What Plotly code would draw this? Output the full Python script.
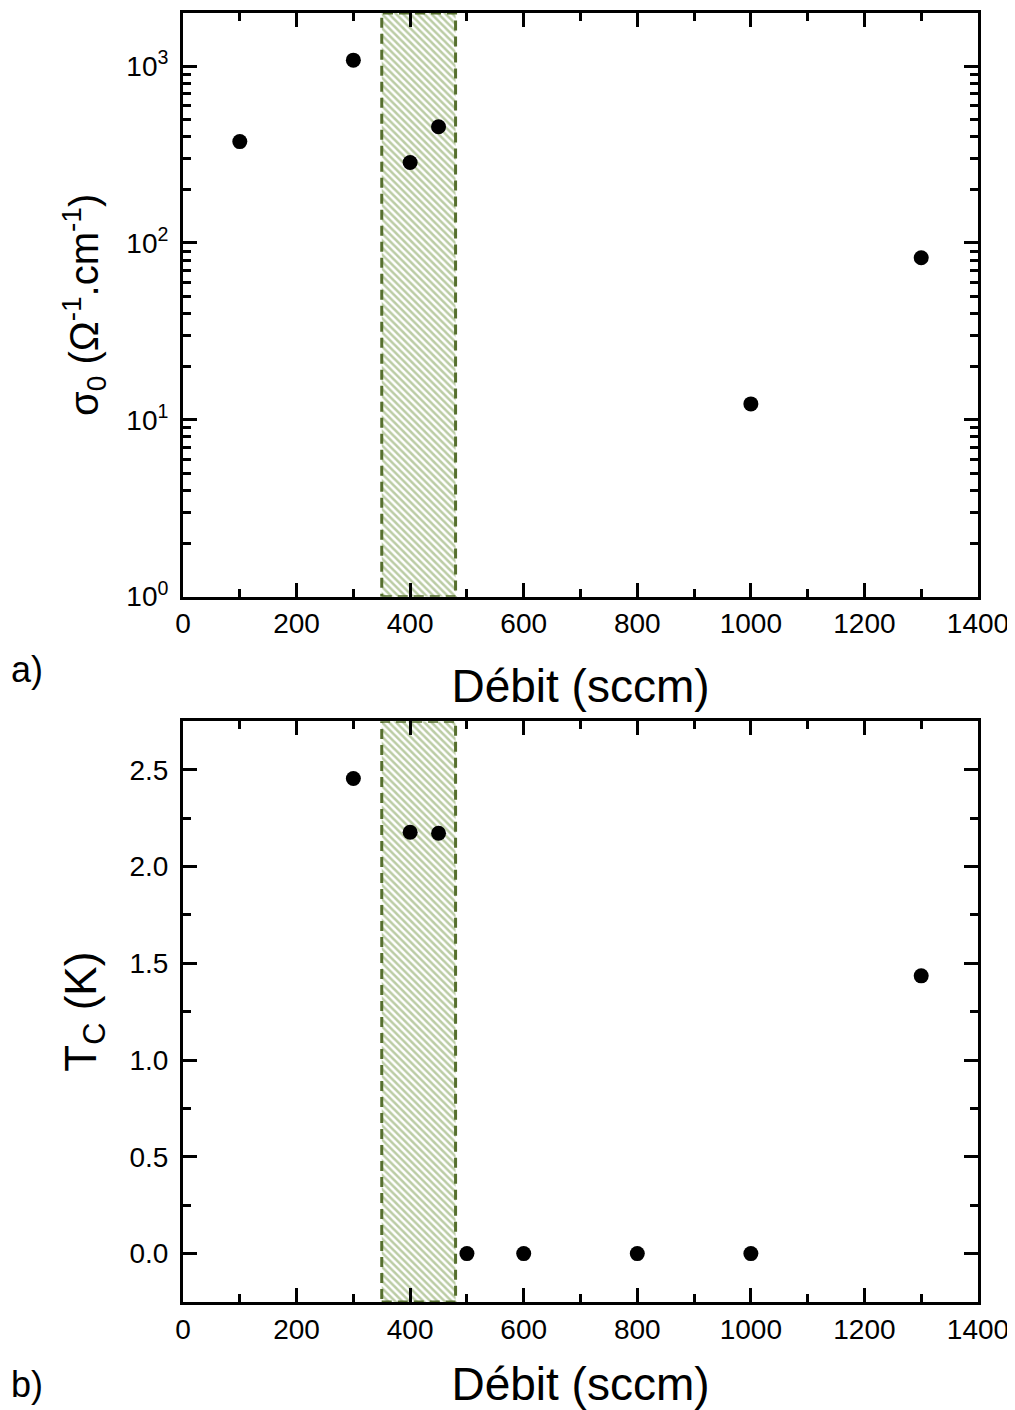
import plotly.graph_objects as go
from plotly.subplots import make_subplots

# ---- data ----
flow_a = [100, 300, 400, 450, 1000, 1300]
sigma0 = [374, 1080, 285, 454, 12.3, 82.5]

flow_b = [300, 400, 450, 500, 600, 800, 1000, 1300]
tc = [2.455, 2.177, 2.172, 0.0, 0.0, 0.0, 0.0, 1.435]

band_start, band_end = 350, 480

x_ticks = [0, 200, 400, 600, 800, 1000, 1200, 1400]
log_tickvals = [1, 10, 100, 1000]
log_ticktext = ["10<sup>0</sup>", "10<sup>1</sup>", "10<sup>2</sup>", "10<sup>3</sup>"]
log_minor = [m * d for d in (1, 10, 100, 1000) for m in range(2, 10)]
lin_ticks = [0.0, 0.5, 1.0, 1.5, 2.0, 2.5]

# ---- layout (page has an 8px body margin) ----
OFF = 8
W, H = 1015 - OFF, 1410 - OFF
ML, MT = 183 - OFF, 10 - OFF
MR = (W + OFF) - 978
MB = (H + OFF) - 1302
ph = H - MT - MB
pw = W - ML - MR


def ypaper(page_y):
    return (H - MB - (page_y - OFF)) / ph


def xpaper(page_x):
    return (page_x - OFF - ML) / pw


top_dom = [ypaper(595), 1.0]
bot_dom = [0.0, ypaper(720)]

FONT = "Liberation Sans, Arial, sans-serif"
BAND_LINE = "#566f2e"
BAND_HATCH = "#779a4a"

ya_range_log = [0, 3.3]
yb_range = [-0.25, 2.75]

fig = make_subplots(rows=2, cols=1)

band_style = dict(
    mode="lines", fill="toself", fillcolor="white",
    fillpattern=dict(shape="\\", fgcolor=BAND_HATCH, bgcolor="white", size=5, solidity=0.5),
    line=dict(color=BAND_LINE, width=3, dash="10px,6px"),
    showlegend=False, hoverinfo="skip")

ylo, yhi = 10 ** ya_range_log[0], 10 ** ya_range_log[1]
fig.add_trace(go.Scatter(
    x=[band_start, band_end, band_end, band_start, band_start],
    y=[ylo, ylo, yhi, yhi, ylo], **band_style), row=1, col=1)
fig.add_trace(go.Scatter(
    x=[band_start, band_end, band_end, band_start, band_start],
    y=[yb_range[0], yb_range[0], yb_range[1], yb_range[1], yb_range[0]], **band_style), row=2, col=1)

fig.add_trace(go.Scatter(x=flow_a, y=sigma0, mode="markers",
                         marker=dict(color="black", size=15),
                         showlegend=False, cliponaxis=False), row=1, col=1)
fig.add_trace(go.Scatter(x=flow_b, y=tc, mode="markers",
                         marker=dict(color="black", size=15),
                         showlegend=False, cliponaxis=False), row=2, col=1)

axis_common = dict(
    showline=True, linecolor="black", linewidth=3, mirror="allticks",
    ticks="inside", ticklen=14, tickwidth=3, tickcolor="black",
    showgrid=False, zeroline=False,
    tickfont=dict(family=FONT, size=28, color="black"),
)
minor_common = dict(ticks="inside", ticklen=8, tickwidth=3, tickcolor="black", showgrid=False)

xcommon = dict(axis_common, range=[0, 1400], tickvals=x_ticks,
               minor=dict(minor_common, dtick=100))
xtitle_font = dict(family=FONT, size=46, color="black")

fig.update_layout(
    width=W, height=H,
    margin=dict(l=ML, r=MR, t=MT, b=MB),
    plot_bgcolor="white", paper_bgcolor="white",
    xaxis=dict(xcommon, domain=[0, 1], anchor="y",
               title=dict(text="Débit (sccm)", font=xtitle_font, standoff=32)),
    xaxis2=dict(xcommon, domain=[0, 1], anchor="y2",
                title=dict(text="Débit (sccm)", font=xtitle_font, standoff=27)),
    yaxis=dict(axis_common, type="log", range=ya_range_log, domain=top_dom,
               tickvals=log_tickvals, ticktext=log_ticktext, ticklabelstandoff=6,
               minor=dict(minor_common, tickvals=log_minor),
               title=dict(text="σ<sub>0</sub> (Ω<sup>-1</sup>.cm<sup>-1</sup>)",
                          font=dict(family=FONT, size=40, color="black"), standoff=16)),
    yaxis2=dict(axis_common, range=yb_range, domain=bot_dom,
                tickvals=lin_ticks, tickformat=".1f", ticklabelstandoff=6,
                minor=dict(minor_common, dtick=0.25),
                title=dict(text="T<sub>C</sub> (K)",
                           font=dict(family=FONT, size=44, color="black"), standoff=20)),
)

for txt, py in (("a)", 668), ("b)", 1385)):
    fig.add_annotation(text=txt, x=xpaper(9), y=ypaper(py), xref="paper", yref="paper",
                       xanchor="left", yanchor="middle", showarrow=False,
                       font=dict(family=FONT, size=36, color="black"))

fig.write_html("out.html")
